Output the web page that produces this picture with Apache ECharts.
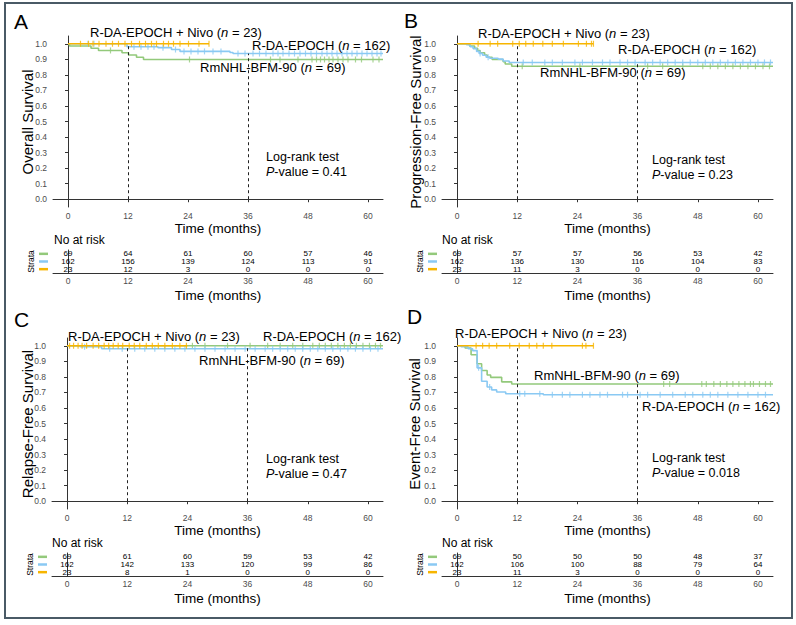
<!DOCTYPE html>
<html>
<head>
<meta charset="utf-8">
<script src="https://cdn.jsdelivr.net/npm/echarts@6/dist/echarts.min.js"></script>
<style>
html, body { margin: 0; padding: 0; background: #fff; }
#container { width: 796px; height: 625px; }
</style>
</head>
<body>
<div id="container"></div>
<script>
var GREEN = '#93c97b', BLUE = '#8ac9f3', ORANGE = '#f7b500';
var FONT = '"Liberation Sans", Arial, sans-serif';

var timeTicks = [0, 12, 24, 36, 48, 60];
var survTicks = [0, 0.1, 0.2, 0.3, 0.4, 0.5, 0.6, 0.7, 0.8, 0.9, 1.0];
var groupNames = ['RmNHL-BFM-90', 'R-DA-EPOCH', 'R-DA-EPOCH + Nivo'];
var groupN = [69, 162, 23];

// A - overall survival
var osBfmTimes = [0, 0.3, 4.6, 6.1, 10.8, 12.1, 13.7, 15.1];
var osBfmSurv = [1, 0.986, 0.971, 0.957, 0.942, 0.928, 0.913, 0.899];
var osBfmCensor = [8.5, 24.3, 40.5, 42.4, 46, 48.8, 49.7, 50.5, 51.3, 52.2, 53, 54, 55, 56, 57.5, 58.7, 61, 62.2];
var osEpochTimes = [0, 11.8, 18, 20.7, 22.4, 32.4, 33];
var osEpochSurv = [1, 0.981, 0.975, 0.963, 0.951, 0.944, 0.937];
var osEpochCensor = [4, 5.2, 13.2, 14.6, 16, 17.2, 19, 21.5, 23.2, 24.6, 26, 27.3, 29, 30.6, 34, 35.4, 37, 38.3, 39.6, 41, 42, 43, 44.2, 45.3, 46.4, 47.5, 48.6, 49.7, 50.8, 51.8, 52.8, 53.8, 54.8, 55.8, 56.8, 57.8, 58.8, 59.8, 60.8, 61.8, 62.6];
var osNivoTimes = [0];
var osNivoSurv = [1];
var osNivoEnd = 28.2;
var osNivoCensor = [2.5, 4.1, 5.0, 6.2, 7.6, 8.9, 10.1, 11.4, 12.7, 14.3, 15.5, 16.7, 17.7, 19.1, 20.1, 21.1, 22.4, 24.1, 26.2, 28.2];
var osRiskBfm = [69, 64, 61, 60, 57, 46];
var osRiskEpoch = [162, 156, 139, 124, 113, 91];
var osRiskNivo = [23, 12, 3, 0, 0, 0];

// B - progression-free survival
var pfsBfmTimes = [0, 2.5, 3.5, 4.1, 4.6, 5.5, 6.0, 7.0, 9.2, 9.6, 10.9];
var pfsBfmSurv = [1, 0.986, 0.971, 0.957, 0.942, 0.928, 0.913, 0.899, 0.884, 0.870, 0.855];
var pfsBfmCensor = [13, 24.5, 38, 41, 45, 49, 50.5, 52, 53.5, 55, 56.5, 58, 59.5, 61, 62.3];
var pfsEpochTimes = [0, 1.9, 2.6, 3.2, 3.9, 4.4, 5.1, 5.8, 6.5, 8.2, 9.2, 10.4];
var pfsEpochSurv = [1, 0.994, 0.981, 0.969, 0.951, 0.938, 0.926, 0.914, 0.907, 0.901, 0.889, 0.880];
var pfsEpochCensor = [4.6, 6.2, 13.2, 15, 17.5, 19, 21, 23.5, 25, 27, 29, 30.5, 32.5, 34, 35.5, 37.5, 39, 40.5, 42, 43.5, 45, 46.5, 48, 49.5, 51, 52.5, 54, 55.5, 57, 58.5, 60, 61.3, 62.5];
var pfsNivoTimes = [0];
var pfsNivoSurv = [1];
var pfsNivoEnd = 27.2;
var pfsNivoCensor = [4.2, 6.6, 8.1, 11.1, 12.4, 13.7, 15.2, 17.1, 19, 21.2, 24.2, 25.8, 26.8, 27.2];
var pfsRiskBfm = [69, 57, 57, 56, 53, 42];
var pfsRiskEpoch = [162, 136, 130, 116, 104, 83];
var pfsRiskNivo = [23, 11, 3, 0, 0, 0];

// C - relapse-free survival
var rfsBfmTimes = [0];
var rfsBfmSurv = [1];
var rfsBfmCensor = [25, 27.5, 32, 36.5, 40, 42.5, 45, 47, 49, 50.3, 51.5, 52.7, 54, 55.3, 56.5, 57.7, 59, 60.3, 61.5, 62.5];
var rfsEpochTimes = [0, 2.6, 6.9];
var rfsEpochSurv = [1, 0.994, 0.981];
var rfsEpochCensor = [3.5, 8.5, 11, 13.5, 15.5, 17.5, 19.5, 21.5, 23.5, 25.5, 27.5, 29.5, 31.5, 33.5, 35.5, 37.5, 39.5, 41, 42.5, 44, 45.5, 47, 48.5, 50, 51.5, 53, 54.5, 56, 57.5, 59, 60.5, 62];
var rfsNivoTimes = [0];
var rfsNivoSurv = [1];
var rfsNivoEnd = 24;
var rfsNivoCensor = [0.5, 1.3, 2.2, 3, 3.9, 5.2, 6.3, 7.4, 8.3, 9.2, 10.2, 11.1, 12.4, 13.4, 14.5, 15.8, 17, 18.2, 19.5, 21, 22.5, 23.8];
var rfsRiskBfm = [69, 61, 60, 59, 53, 42];
var rfsRiskEpoch = [162, 142, 133, 120, 99, 86];
var rfsRiskNivo = [23, 8, 1, 0, 0, 0];

// D - event-free survival
var efsBfmTimes = [0, 1.6, 2.8, 4.0, 4.9, 6.0, 6.7, 8.9, 10.9];
var efsBfmSurv = [1, 0.986, 0.942, 0.884, 0.841, 0.812, 0.797, 0.768, 0.754];
var efsBfmCensor = [41.2, 42.4, 48.8, 49.7, 51.2, 52.5, 53.8, 55, 56.2, 57.4, 58.5, 59.1, 60.3, 61.5, 62.5];
var efsEpochTimes = [0, 0.8, 2.2, 3.1, 4.0, 4.9, 6.0, 6.9, 7.9, 9.7, 17.2];
var efsEpochSurv = [1, 0.994, 0.981, 0.969, 0.858, 0.772, 0.735, 0.716, 0.703, 0.691, 0.685];
var efsEpochCensor = [4.3, 6.5, 12.5, 13.5, 16.5, 19, 21, 22.5, 25, 26.5, 28.5, 30, 33, 34, 36.5, 38, 40.5, 43, 45.5, 47, 49, 50.5, 52, 54, 56, 58, 60, 61.5];
var efsNivoTimes = [0];
var efsNivoSurv = [1];
var efsNivoEnd = 27.2;
var efsNivoCensor = [3.8, 5.1, 6.4, 7.9, 10.5, 12.4, 14.4, 15.9, 17.2, 18.9, 25.0, 25.7, 27.2];
var efsRiskBfm = [69, 50, 50, 50, 48, 37];
var efsRiskEpoch = [162, 106, 100, 88, 79, 64];
var efsRiskNivo = [23, 11, 3, 0, 0, 0];

var panelTitles = ['Overall Survival', 'Progression-Free Survival', 'Relapse-Free Survival', 'Event-Free Survival'];
var pValues = ['0.41', '0.23', '0.47', '0.018'];
var CURVE_END = 63;

function grp(times, surv, end, censor, risk) {
    return {times: times, surv: surv, end: end, censor: censor, risk: risk};
}

var panels = [
    {letter: 'A', main: {left: 53, top: 36, width: 330, height: 171}, table: {left: 53, top: 250, width: 330, height: 23},
     groups: [grp(osBfmTimes, osBfmSurv, CURVE_END, osBfmCensor, osRiskBfm),
              grp(osEpochTimes, osEpochSurv, CURVE_END, osEpochCensor, osRiskEpoch),
              grp(osNivoTimes, osNivoSurv, osNivoEnd, osNivoCensor, osRiskNivo)],
     letterPos: [14, 21], ytitle: [27, 122], labels: [[200, 67], [252, 45], [90, 32]], logrank: [266, 157], noRisk: [54, 240]},
    {letter: 'B', main: {left: 442, top: 36, width: 331, height: 171}, table: {left: 442, top: 250, width: 331, height: 23},
     groups: [grp(pfsBfmTimes, pfsBfmSurv, CURVE_END, pfsBfmCensor, pfsRiskBfm),
              grp(pfsEpochTimes, pfsEpochSurv, CURVE_END, pfsEpochCensor, pfsRiskEpoch),
              grp(pfsNivoTimes, pfsNivoSurv, pfsNivoEnd, pfsNivoCensor, pfsRiskNivo)],
     letterPos: [404, 20], ytitle: [415, 122], labels: [[540, 72], [618, 49], [478, 33]], logrank: [652, 160], noRisk: [442, 240]},
    {letter: 'C', main: {left: 52, top: 338, width: 331, height: 171}, table: {left: 52, top: 553, width: 331, height: 23},
     groups: [grp(rfsBfmTimes, rfsBfmSurv, CURVE_END, rfsBfmCensor, rfsRiskBfm),
              grp(rfsEpochTimes, rfsEpochSurv, CURVE_END, rfsEpochCensor, rfsRiskEpoch),
              grp(rfsNivoTimes, rfsNivoSurv, rfsNivoEnd, rfsNivoCensor, rfsRiskNivo)],
     letterPos: [14, 319], ytitle: [27, 424], labels: [[199, 360], [263, 336], [68, 336]], logrank: [266, 459], noRisk: [52, 543]},
    {letter: 'D', main: {left: 442, top: 338, width: 331, height: 171}, table: {left: 442, top: 553, width: 331, height: 23},
     groups: [grp(efsBfmTimes, efsBfmSurv, CURVE_END, efsBfmCensor, efsRiskBfm),
              grp(efsEpochTimes, efsEpochSurv, CURVE_END, efsEpochCensor, efsRiskEpoch),
              grp(efsNivoTimes, efsNivoSurv, efsNivoEnd, efsNivoCensor, efsRiskNivo)],
     letterPos: [407, 316], ytitle: [414, 424], labels: [[534, 375], [642, 406], [455, 333]], logrank: [652, 458], noRisk: [442, 543]}
];
var colors = [GREEN, BLUE, ORANGE];

function survAt(g, t) {
    var s = g.surv[0];
    for (var i = 0; i < g.times.length; i++) {
        if (g.times[i] <= t) s = g.surv[i];
    }
    return s;
}

function curve(g) {
    var pts = [];
    for (var i = 0; i < g.times.length; i++) pts.push([g.times[i], g.surv[i]]);
    pts.push([g.end, g.surv[g.surv.length - 1]]);
    return pts;
}

// dashed reference line goes up to the highest curve still followed at t
function topAt(p, t) {
    var v = 0;
    p.groups.forEach(function (g) {
        if (g.end >= t) v = Math.max(v, survAt(g, t));
    });
    return v;
}

var dom = document.getElementById('container');
var myChart = echarts.init(dom, null, {renderer: 'svg'});

var grids = [], xAxes = [], yAxes = [], series = [], graphics = [];

graphics.push({type: 'rect', shape: {x: 5, y: 3, width: 787, height: 615},
    style: {fill: 'none', stroke: '#4a5a66', lineWidth: 2}});

panels.forEach(function (p, pi) {
    var gMain = grids.length;
    grids.push(p.main);
    var gTab = grids.length;
    grids.push(p.table);

    var baseX = {
        type: 'value', min: -3, max: 63,
        axisLine: {show: true, lineStyle: {color: '#333', width: 1}},
        axisTick: {show: true, customValues: timeTicks, length: 3, lineStyle: {color: '#333'}},
        axisLabel: {customValues: timeTicks, fontSize: 8.5, color: '#4d4d4d', margin: 4, fontFamily: FONT},
        splitLine: {show: false},
        name: 'Time (months)', nameLocation: 'middle', nameGap: 14,
        nameTextStyle: {fontSize: 13.5, color: '#000', fontFamily: FONT}
    };
    xAxes.push(Object.assign({}, baseX, {gridIndex: gMain}));
    xAxes.push(Object.assign({}, baseX, {gridIndex: gTab, nameGap: 15,
        axisTick: {show: false},
        axisLabel: {customValues: timeTicks, fontSize: 8.5, color: '#4d4d4d', margin: 3, fontFamily: FONT}}));

    yAxes.push({
        gridIndex: gMain, type: 'value', min: -0.05, max: 1.05,
        axisLine: {show: true, lineStyle: {color: '#333', width: 1}},
        axisTick: {show: true, customValues: survTicks, length: 3, lineStyle: {color: '#333'}},
        axisLabel: {customValues: survTicks, fontSize: 8.5, color: '#4d4d4d', margin: 6, fontFamily: FONT,
            formatter: function (v) { return v.toFixed(1); }},
        splitLine: {show: false}
    });
    yAxes.push({
        gridIndex: gTab, type: 'category', inverse: true, data: ['0', '1', '2'],
        axisLine: {show: true, lineStyle: {color: '#333', width: 1}},
        axisTick: {show: false},
        axisLabel: {margin: 5, interval: 0, hideOverlap: false,
            formatter: function (v, i) { return ['{g| }', '{b| }', '{o| }'][i]; },
            rich: {
                g: {width: 9, height: 2.5, lineHeight: 3, backgroundColor: GREEN},
                b: {width: 9, height: 2.5, lineHeight: 3, backgroundColor: BLUE},
                o: {width: 9, height: 2.5, lineHeight: 3, backgroundColor: ORANGE}
            }},
        name: 'Strata', nameLocation: 'middle', nameRotate: 90, nameGap: 17,
        nameTextStyle: {fontSize: 8.5, color: '#000', fontFamily: FONT}
    });

    p.groups.forEach(function (g, gi) {
        var s = {
            type: 'line', xAxisIndex: gMain, yAxisIndex: gMain, step: 'end',
            data: curve(g), symbol: 'none', silent: true,
            lineStyle: {color: colors[gi], width: 1.6}, z: 2 + gi
        };
        if (gi === 0) {
            s.markLine = {
                silent: true, symbol: 'none', label: {show: false}, animation: false,
                lineStyle: {type: [3, 3], color: '#222', width: 1},
                data: [
                    [{coord: [12, 0]}, {coord: [12, topAt(p, 12)]}],
                    [{coord: [36, 0]}, {coord: [36, topAt(p, 36)]}]
                ]
            };
        }
        series.push(s);
        series.push({
            type: 'scatter', xAxisIndex: gMain, yAxisIndex: gMain, silent: true,
            symbol: 'rect', symbolSize: [1.2, 6], z: 2 + gi,
            itemStyle: {color: colors[gi]},
            data: g.censor.map(function (t) { return [t, survAt(g, t)]; })
        });
    });

    // numbers at risk, placed through the table's own axes
    var riskData = [];
    p.groups.forEach(function (g, gi) {
        timeTicks.forEach(function (t, j) { riskData.push([t, gi, g.risk[j]]); });
    });
    series.push({
        type: 'custom', xAxisIndex: gTab, yAxisIndex: gTab, silent: true,
        encode: {x: 0, y: 1},
        renderItem: function (params, api) {
            var pt = api.coord([api.value(0), api.value(1)]);
            return {
                type: 'text', x: pt[0], y: pt[1],
                style: {text: String(api.value(2)), fontSize: 8, fontFamily: FONT, fill: '#000',
                    align: 'center', verticalAlign: 'middle'}
            };
        },
        data: riskData
    });

    // texts
    graphics.push({type: 'text', x: p.letterPos[0], y: p.letterPos[1],
        style: {text: p.letter, fontSize: 21, fontFamily: FONT, fill: '#000', verticalAlign: 'middle'}});
    graphics.push({type: 'text', x: p.ytitle[0], y: p.ytitle[1], rotation: Math.PI / 2,
        style: {text: panelTitles[pi], fontSize: 15, fontFamily: FONT, fill: '#000', align: 'center', verticalAlign: 'middle'}});
    p.labels.forEach(function (pos, gi) {
        graphics.push({type: 'text', x: pos[0], y: pos[1], z: 10,
            style: {text: groupNames[gi] + ' ({i|n} = ' + groupN[gi] + ')', fontSize: 13, fontFamily: FONT,
                fill: '#000', verticalAlign: 'middle',
                rich: {i: {fontStyle: 'italic', fontSize: 13, fontFamily: FONT}}}});
    });
    graphics.push({type: 'text', x: p.logrank[0], y: p.logrank[1],
        style: {text: 'Log-rank test', fontSize: 12.5, fontFamily: FONT, fill: '#000', verticalAlign: 'middle'}});
    graphics.push({type: 'text', x: p.logrank[0], y: p.logrank[1] + 15,
        style: {text: '{i|P}-value = ' + pValues[pi], fontSize: 12.5, fontFamily: FONT, fill: '#000', verticalAlign: 'middle',
            rich: {i: {fontStyle: 'italic', fontSize: 12.5, fontFamily: FONT}}}});
    graphics.push({type: 'text', x: p.noRisk[0], y: p.noRisk[1],
        style: {text: 'No at risk', fontSize: 12, fontFamily: FONT, fill: '#000', verticalAlign: 'middle'}});
});

var option = {
    animation: false,
    backgroundColor: '#fff',
    textStyle: {fontFamily: FONT},
    grid: grids,
    xAxis: xAxes,
    yAxis: yAxes,
    series: series,
    graphic: graphics
};
myChart.setOption(option);
</script>
</body>
</html>
